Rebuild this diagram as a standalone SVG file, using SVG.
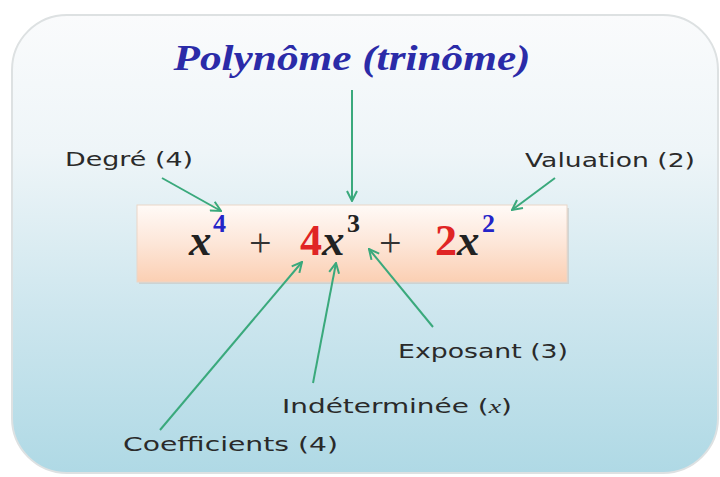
<svg xmlns="http://www.w3.org/2000/svg" width="720" height="477" viewBox="0 0 720 477">
<defs>
<linearGradient id="panelGrad" x1="0" y1="0" x2="0" y2="1">
<stop offset="0" stop-color="#fafbfc"/>
<stop offset="0.3" stop-color="#eef5f8"/>
<stop offset="0.65" stop-color="#cde6ee"/>
<stop offset="1" stop-color="#afd9e5"/>
</linearGradient>
<linearGradient id="boxGrad" x1="0" y1="0" x2="0" y2="1">
<stop offset="0" stop-color="#fffaf7"/>
<stop offset="0.5" stop-color="#fde6d8"/>
<stop offset="1" stop-color="#fbcfb3"/>
</linearGradient>
<marker id="arr" viewBox="0 0 12 12" refX="11" refY="6" markerWidth="12" markerHeight="12" markerUnits="userSpaceOnUse" orient="auto">
<path d="M1,1 L11,6 L1,11" fill="none" stroke="#3aa97c" stroke-width="2" stroke-linejoin="miter"/>
</marker>
</defs>
<style>
.lbl{font-family:"DejaVu Sans","Liberation Sans",sans-serif;font-size:19px;fill:#2a2a2a;}
.conn line{stroke:#3aa97c;stroke-width:2;marker-end:url(#arr);}
.mx{font-family:"Liberation Serif",serif;font-style:italic;font-weight:bold;font-size:45px;fill:#222;}
.md{font-family:"Liberation Serif",serif;font-weight:bold;font-size:44px;}
.sup{font-family:"Liberation Serif",serif;font-weight:bold;font-size:26px;}
.plus{font-family:"Liberation Serif",serif;font-size:40px;fill:#333;}
</style>
<rect width="720" height="477" fill="#ffffff"/>
<g id="panel">
<rect x="12" y="15" width="706" height="458" rx="55" ry="55" fill="url(#panelGrad)" stroke="#dde1e2" stroke-width="2"/>
</g>
<g id="title">
<text x="352" y="70" text-anchor="middle" font-family="Liberation Serif, serif" font-style="italic" font-weight="bold" font-size="36" fill="#2b2ba8" textLength="357" lengthAdjust="spacingAndGlyphs">Polynôme (trinôme)</text>
</g>
<g id="formula">
<rect x="139" y="208" width="430" height="76" fill="#c8c4c0" opacity="0.6"/>
<rect x="137" y="205" width="430" height="77" fill="url(#boxGrad)" stroke="#ead6c8" stroke-width="1"/>
<text class="mx" x="189" y="255">x</text>
<text class="sup" x="213" y="232" fill="#2424c8">4</text>
<text class="plus" x="249" y="256">+</text>
<text class="md" x="300" y="255" fill="#e02424">4</text>
<text class="mx" x="322" y="255">x</text>
<text class="sup" x="347" y="232" fill="#222">3</text>
<text class="plus" x="379" y="256">+</text>
<text class="md" x="435" y="255" fill="#e02424">2</text>
<text class="mx" x="457" y="255">x</text>
<text class="sup" x="482" y="232" fill="#2424c8">2</text>
</g>
<g id="degre"><text class="lbl" x="65" y="166" textLength="128" lengthAdjust="spacingAndGlyphs">Degré (4)</text></g>
<g id="valuation"><text class="lbl" x="525" y="167" textLength="170" lengthAdjust="spacingAndGlyphs">Valuation (2)</text></g>
<g id="exposant"><text class="lbl" x="398" y="358" textLength="170" lengthAdjust="spacingAndGlyphs">Exposant (3)</text></g>
<g id="indeterminee"><text class="lbl" x="282" y="413" textLength="230" lengthAdjust="spacingAndGlyphs">Indéterminée (<tspan font-family="Liberation Serif, serif" font-style="italic">x</tspan>)</text></g>
<g id="coefficients"><text class="lbl" x="123" y="451" textLength="215" lengthAdjust="spacingAndGlyphs">Coefficients (4)</text></g>
<g id="connectors" class="conn">
<line x1="352" y1="90" x2="352" y2="201"/>
<line x1="162" y1="178" x2="221" y2="211"/>
<line x1="555" y1="178" x2="512" y2="210"/>
<line x1="160" y1="430" x2="302" y2="262"/>
<line x1="313" y1="383" x2="336" y2="263"/>
<line x1="433" y1="327" x2="369" y2="249"/>
</g>
</svg>
